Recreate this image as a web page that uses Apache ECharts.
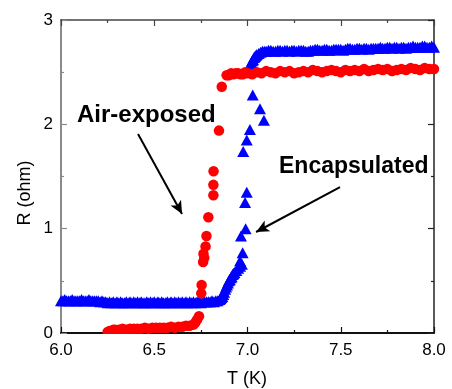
<!DOCTYPE html>
<html><head><meta charset="utf-8">
<script src="https://cdn.jsdelivr.net/npm/echarts@6/dist/echarts.min.js"></script>
<style>html,body{margin:0;padding:0;background:#fff}#c{width:452px;height:389px}</style>
</head><body><div id="c"></div>
<script>
// Encapsulated (blue triangles): [T (K), R (ohm)]
const blueLow = [
[6.00,0.31],[6.01,0.31],[6.02,0.32],[6.03,0.31],[6.04,0.31],[6.05,0.31],[6.06,0.32],[6.07,0.31],[6.08,0.31],[6.09,0.31],
[6.10,0.31],[6.11,0.32],[6.12,0.31],[6.13,0.31],[6.14,0.31],[6.15,0.32],[6.16,0.31],[6.17,0.31],[6.18,0.31],[6.19,0.31],
[6.20,0.31],[6.21,0.30],[6.22,0.31],[6.23,0.30],[6.24,0.30],[6.25,0.29],[6.26,0.30],[6.27,0.29],[6.28,0.30],[6.29,0.29],
[6.30,0.30],[6.31,0.29],[6.32,0.30],[6.33,0.29],[6.34,0.29],[6.35,0.30],[6.36,0.29],[6.37,0.30],[6.38,0.29],[6.39,0.30],
[6.40,0.29],[6.41,0.30],[6.42,0.29],[6.43,0.30],[6.44,0.29],[6.45,0.29],[6.46,0.30],[6.47,0.29],[6.48,0.30],[6.49,0.29],
[6.50,0.30],[6.51,0.29],[6.52,0.30],[6.53,0.29],[6.54,0.30],[6.55,0.29],[6.56,0.29],[6.57,0.30],[6.58,0.29],[6.59,0.30],
[6.60,0.29],[6.61,0.30],[6.62,0.29],[6.63,0.30],[6.64,0.29],[6.65,0.30],[6.66,0.29],[6.67,0.30],[6.68,0.29],[6.69,0.30],
[6.70,0.29],[6.71,0.30],[6.72,0.29],[6.73,0.30],[6.74,0.30],[6.75,0.29],[6.76,0.30],[6.77,0.30],[6.78,0.30],[6.79,0.30],
[6.80,0.30],[6.81,0.31],[6.82,0.30],[6.83,0.31],[6.84,0.31]
];
const blueTransition = [
[6.85,0.32],[6.855,0.33],[6.86,0.34],[6.865,0.35],[6.87,0.37],[6.875,0.39],[6.88,0.42],[6.885,0.44],[6.89,0.46],[6.895,0.48],
[6.90,0.50],[6.905,0.51],[6.91,0.53],[6.915,0.54],[6.92,0.56],[6.925,0.57],[6.93,0.58],[6.94,0.60],[6.95,0.62],[6.96,0.64],
[6.97,0.66],[6.96,0.69],[6.974,0.77],[6.965,0.93],[6.99,1.00],[6.987,1.25],[6.996,1.35],[6.977,1.74],
[6.996,1.85],[7.013,1.95],[7.088,2.04],[7.067,2.15],[7.028,2.28],
[7.005,2.50],[7.010,2.53],[7.015,2.56],[7.02,2.59],[7.025,2.61],[7.03,2.62],[7.035,2.64],[7.04,2.65],[7.045,2.66],[7.05,2.67],
[7.06,2.68],[7.07,2.69],[7.08,2.70],[7.09,2.70]
];
const blueHigh = [
[7.1000,2.70],[7.1125,2.71],[7.1250,2.71],[7.1375,2.70],[7.1500,2.70],[7.1625,2.71],[7.1750,2.71],[7.1875,2.70],[7.2000,2.71],[7.2125,2.71],
[7.2250,2.70],[7.2375,2.71],[7.2500,2.71],[7.2625,2.70],[7.2750,2.71],[7.2875,2.71],[7.3000,2.71],[7.3125,2.70],[7.3250,2.70],[7.3375,2.71],
[7.3500,2.71],[7.3625,2.72],[7.3750,2.72],[7.3875,2.71],[7.4000,2.71],[7.4125,2.72],[7.4250,2.72],[7.4375,2.71],[7.4500,2.71],[7.4625,2.72],
[7.4750,2.72],[7.4875,2.72],[7.5000,2.72],[7.5125,2.71],[7.5250,2.72],[7.5375,2.73],[7.5500,2.73],[7.5625,2.72],[7.5750,2.72],[7.5875,2.73],
[7.6000,2.73],[7.6125,2.72],[7.6250,2.73],[7.6375,2.73],[7.6500,2.72],[7.6625,2.73],[7.6750,2.73],[7.6875,2.73],[7.7000,2.73],[7.7125,2.74],
[7.7250,2.73],[7.7375,2.73],[7.7500,2.74],[7.7625,2.74],[7.7750,2.73],[7.7875,2.74],[7.8000,2.74],[7.8125,2.73],[7.8250,2.74],[7.8375,2.74],
[7.8500,2.73],[7.8625,2.74],[7.8750,2.74],[7.8875,2.75],[7.9000,2.74],[7.9125,2.74],[7.9250,2.74],[7.9375,2.75],[7.9500,2.75],[7.9625,2.74],
[7.9750,2.74],[7.9875,2.75],[8.0000,2.74]
];
// Air-exposed (red circles)
const redLow = [
[6.25,0.01],[6.26,0.02],[6.27,0.02],[6.28,0.03],[6.29,0.03],[6.31,0.03],[6.33,0.04],[6.35,0.03],[6.37,0.04],[6.39,0.04],[6.41,0.04],[6.43,0.04],
[6.45,0.05],[6.47,0.04],[6.49,0.05],[6.51,0.05],[6.53,0.05],[6.55,0.05],[6.57,0.05],[6.59,0.06],[6.61,0.05],[6.63,0.06],
[6.65,0.06],[6.67,0.07],[6.69,0.07],[6.71,0.08],[6.72,0.10],[6.73,0.13],[6.74,0.16]
];
const redTransition = [
[6.752,0.38],[6.754,0.46],[6.762,0.68],[6.768,0.72],[6.764,0.76],[6.775,0.83],[6.78,0.93],[6.79,1.11],[6.817,1.32],[6.817,1.42],
[6.818,1.55],[6.847,1.94],[6.862,2.36],[6.888,2.47]
];
const redHigh = [
[6.900,2.47],[6.9125,2.49],[6.925,2.48],[6.9375,2.49],[6.950,2.49],[6.9625,2.48],[6.975,2.48],[6.9875,2.50],[7.000,2.49],[7.025,2.48],[7.050,2.50],[7.075,2.49],[7.100,2.51],[7.125,2.50],
[7.150,2.49],[7.175,2.51],[7.200,2.50],[7.225,2.51],[7.250,2.49],[7.275,2.50],[7.300,2.51],[7.325,2.50],[7.350,2.52],[7.375,2.51],
[7.400,2.50],[7.425,2.51],[7.450,2.52],[7.475,2.51],[7.500,2.50],[7.525,2.52],[7.550,2.51],[7.575,2.52],[7.600,2.51],[7.625,2.53],
[7.650,2.51],[7.675,2.52],[7.700,2.53],[7.725,2.52],[7.750,2.53],[7.775,2.51],[7.800,2.52],[7.825,2.53],[7.850,2.52],[7.875,2.54],
[7.900,2.53],[7.925,2.52],[7.950,2.54],[7.975,2.53],[8.000,2.53]
];
// annotation arrows [from, to] in data coords
const airArrow = [[6.413,1.907],[6.649,1.141]];
const encArrow = [[7.496,1.399],[7.046,0.968]];
const xTicks = [6.0, 6.5, 7.0, 7.5, 8.0];
const yTicks = [0, 1, 2, 3];

const blueData = blueLow.concat(blueTransition, blueHigh);
const redData = redLow.concat(redTransition, redHigh);

const chart = echarts.init(document.getElementById('c'), null, {renderer:'canvas'});
const font = 'Liberation Sans, Arial, sans-serif';
function axisCommon(color, w, showLabel) {
  return {
    axisLine:{show:true, onZero:false, lineStyle:{color:color, width:w}},
    axisTick:{show:true, inside:true, length:6, lineStyle:{color:color, width:1.2}},
    minorTick:{show:true, splitNumber:2, length:3, lineStyle:{color:color, width:1.2}},
    splitLine:{show:false},
    axisLabel:{show:showLabel, color:'#000', fontSize:17, fontFamily:font}
  };
}
const option = {
  animation:false,
  backgroundColor:'#fff',
  grid:{left:61, right:18, top:20, bottom:56, containLabel:false},
  xAxis:[
    Object.assign({type:'value', position:'bottom', min:xTicks[0], max:xTicks[xTicks.length-1], interval:0.5}, axisCommon('#111',2,true),
      {axisLabel:{show:true, color:'#000', fontSize:17, fontFamily:font, margin:9, formatter:v=>v.toFixed(1)}}),
    Object.assign({type:'value', position:'top', min:xTicks[0], max:xTicks[xTicks.length-1], interval:0.5}, axisCommon('#444',1.5,false))
  ],
  yAxis:[
    Object.assign({type:'value', position:'left', min:yTicks[0], max:yTicks[yTicks.length-1], interval:1}, axisCommon('#8a8a8a',2,true),
      {axisLabel:{show:true, color:'#000', fontSize:17, fontFamily:font, margin:8}}),
    Object.assign({type:'value', position:'right', min:yTicks[0], max:yTicks[yTicks.length-1], interval:1}, axisCommon('#222',1.5,false))
  ],
  series:[
    {type:'scatter', name:'Encapsulated', data:blueData, symbol:'triangle', symbolSize:[12,11],
     itemStyle:{color:'#0000ff', opacity:1}, z:2, silent:true,
     markLine:{silent:true, symbol:['none','arrow'], symbolSize:[9,13], label:{show:false},
       lineStyle:{color:'#000', width:2, type:'solid'},
       data:[[{coord:encArrow[0]},{coord:encArrow[1]}]]}},
    {type:'scatter', name:'Air-exposed', data:redData, symbol:'circle', symbolSize:10.5,
     itemStyle:{color:'#ff0000', opacity:1}, z:3, silent:true,
     markLine:{silent:true, symbol:['none','arrow'], symbolSize:[9,13], label:{show:false},
       lineStyle:{color:'#000', width:2, type:'solid'},
       data:[[{coord:airArrow[0]},{coord:airArrow[1]}]]}}
  ],
  graphic:[
    {type:'rect', shape:{x:55, y:334, width:385, height:7}, style:{fill:'#fff'}, z:100, silent:true},
    {type:'text', x:25, y:193, rotation:Math.PI/2, z:101,
     style:{text:'R (ohm)', font:'18px '+font, fill:'#000', align:'center', verticalAlign:'middle'}},
    {type:'text', x:247, y:379, z:101,
     style:{text:'T (K)', font:'18px '+font, fill:'#000', align:'center', verticalAlign:'middle'}},
    {type:'text', x:77, y:103, z:101,
     style:{text:'Air-exposed', font:'bold 24px '+font, fill:'#000', align:'left', verticalAlign:'top'}},
    {type:'text', x:279, y:155, z:101,
     style:{text:'Encapsulated', font:'bold 23px '+font, fill:'#000', align:'left', verticalAlign:'top'}}
  ]
};
chart.setOption(option);
</script>
</body></html>
